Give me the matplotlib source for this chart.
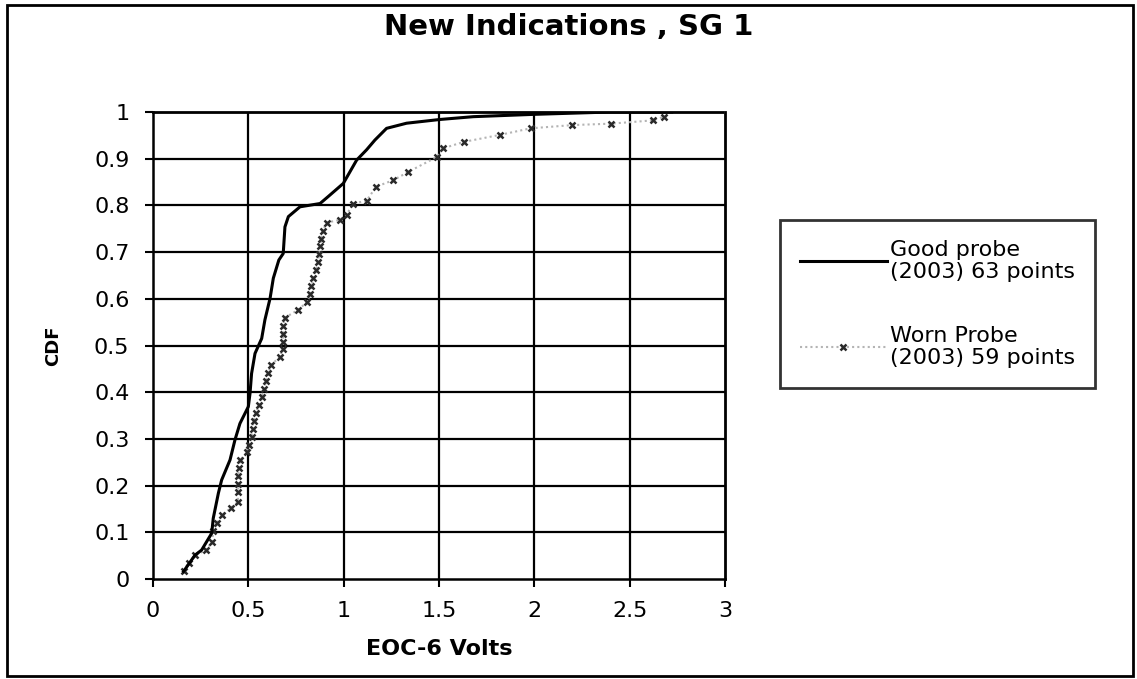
import numpy as np
import matplotlib
matplotlib.use('Agg')
import matplotlib.pyplot as plt
from matplotlib.patches import Rectangle

# Values
good_x = [0.16, 0.22, 0.255, 0.308, 0.316, 0.343, 0.36, 0.404, 0.43, 0.456,
          0.50, 0.509, 0.517, 0.535, 0.57, 0.587, 0.614, 0.631, 0.66, 0.683,
          0.692, 0.71, 0.771, 0.876, 0.919, 0.998, 1.068, 1.12, 1.164, 1.225,
          1.33, 1.505, 1.68, 2.0, 2.4, 2.72]
good_y = [0.016, 0.051, 0.062, 0.098, 0.13, 0.184, 0.212, 0.255, 0.298, 0.333,
          0.369, 0.398, 0.44, 0.483, 0.515, 0.555, 0.601, 0.644, 0.683, 0.697,
          0.754, 0.776, 0.797, 0.804, 0.819, 0.847, 0.897, 0.919, 0.94, 0.965,
          0.976, 0.984, 0.99, 0.995, 1.0, 1.0]

worn_x = [0.16, 0.19, 0.22, 0.28, 0.31, 0.316, 0.335, 0.36, 0.41, 0.445,
          0.447, 0.447, 0.447, 0.45, 0.456, 0.492, 0.502, 0.517, 0.522, 0.528,
          0.54, 0.556, 0.57, 0.582, 0.593, 0.605, 0.618, 0.664, 0.68, 0.683,
          0.683, 0.683, 0.69, 0.76, 0.808, 0.825, 0.831, 0.841, 0.855, 0.866,
          0.871, 0.876, 0.882, 0.89, 0.91, 0.98, 1.015, 1.05, 1.12, 1.17,
          1.26, 1.34, 1.49, 1.52, 1.63, 1.82, 1.98, 2.2, 2.4, 2.62, 2.68]
worn_y = [0.017, 0.034, 0.051, 0.062, 0.08, 0.102, 0.119, 0.136, 0.153, 0.165,
          0.186, 0.203, 0.22, 0.237, 0.254, 0.271, 0.288, 0.305, 0.322, 0.339,
          0.356, 0.373, 0.39, 0.407, 0.424, 0.441, 0.458, 0.475, 0.492, 0.508,
          0.525, 0.542, 0.559, 0.576, 0.593, 0.61, 0.627, 0.644, 0.661, 0.678,
          0.695, 0.712, 0.729, 0.746, 0.763, 0.769, 0.78, 0.804, 0.81, 0.84,
          0.854, 0.872, 0.904, 0.922, 0.936, 0.951, 0.965, 0.972, 0.975, 0.982,
          0.99]

x_ticks = [0, 0.5, 1, 1.5, 2, 2.5, 3]
x_labels = ['0', '0.5', '1', '1.5', '2', '2.5', '3']
y_ticks = [0, 0.1, 0.2, 0.3, 0.4, 0.5, 0.6, 0.7, 0.8, 0.9, 1]
y_labels = ['0', '0.1', '0.2', '0.3', '0.4', '0.5', '0.6', '0.7', '0.8', '0.9', '1']

plt.rc('font', family='DejaVu Sans')

fig = plt.figure(figsize=(11.37, 6.79), dpi=100)
ax = fig.add_axes([153/1137, 100/679, 572/1137, 467/679])

# gridlines (the top and right edges are the dotted plot-area border)
for yv in y_ticks[1:-1]:
    ax.axhline(yv, color='black', lw=1.6, zorder=1)
for xv in x_ticks[1:-1]:
    ax.axvline(xv, color='black', lw=1.6, zorder=1)

ax.plot(worn_x, worn_y, color='#b4b4b4', lw=1.5, ls=(0, (1, 1.5)),
        marker='x', ms=5, mew=1.8, mec='#2a2a2a', zorder=3,
        label='Worn Probe\n(2003) 59 points')
ax.plot(good_x, good_y, color='black', lw=2.2, zorder=4,
        label='Good probe\n(2003) 63 points')

ax.set_xlim(0, 3)
ax.set_ylim(0, 1)
ax.set_xticks(x_ticks)
ax.set_xticklabels(x_labels)
ax.set_yticks(y_ticks)
ax.set_yticklabels(y_labels)
ax.tick_params(direction='out', length=6, width=1.5, labelsize=16,
               colors='black')
ax.tick_params(axis='x', pad=10)
ax.tick_params(axis='y', pad=11)

for side in ['left', 'bottom']:
    ax.spines[side].set_linewidth(1.8)
for side in ['top', 'right']:
    ax.spines[side].set_linewidth(2)
    ax.spines[side].set_linestyle((0, (1, 1)))

ax.set_xlabel('EOC-6 Volts', fontsize=16, fontweight='bold')
ax.xaxis.set_label_coords(0.5, -(649 - 579) / 467)
ax.xaxis.label.set_va('center')
ax.set_ylabel('CDF', fontsize=13, fontweight='bold')
ax.yaxis.set_label_coords(-(153 - 53) / 572, 0.5)
ax.yaxis.label.set_va('center')

fig.suptitle('New Indications , SG 1', fontsize=21, fontweight='bold',
             x=0.5, y=1 - 27/679, va='center')

handles, labels = ax.get_legend_handles_labels()
leg = fig.legend(handles[::-1], labels[::-1], loc='upper left',
                 bbox_to_anchor=(780/1137, 1 - 220/679), borderaxespad=0,
                 fontsize=16, frameon=True, fancybox=False, numpoints=1,
                 handlelength=3.9, handletextpad=0.15, borderpad=0.9,
                 labelspacing=2.0)
leg.get_frame().set_edgecolor('black')
leg.get_frame().set_linewidth(2)
for t in leg.get_texts():
    t.set_linespacing(1.1)

fig.patches.append(Rectangle((7/1137, 3/679), 1126/1137, 671/679,
                             transform=fig.transFigure, fill=False,
                             edgecolor='black', lw=2))

fig.savefig('out.png', dpi=100)
